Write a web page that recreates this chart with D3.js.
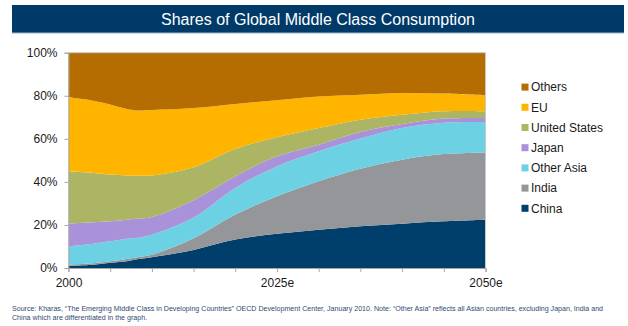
<!DOCTYPE html>
<html>
<head>
<meta charset="utf-8">
<script src="https://cdn.jsdelivr.net/npm/d3@7"></script>
<style>
  body { margin: 0; background: #fff; }
  text { font-family: "Liberation Sans", Arial, sans-serif; }
</style>
</head>
<body>
<div id="chart"></div>
<script>
// shares of global middle class consumption, % by region
const years     = [2000, 2003, 2005, 2007, 2008, 2010, 2015, 2020, 2025, 2030, 2035, 2040, 2045, 2050];
const china     = [1.0, 1.5, 2.4, 3.1, 3.9, 5.0, 8.4, 13.2, 15.9, 17.8, 19.4, 20.6, 21.7, 22.4];
const india     = [0.6, 0.7, 0.7, 1.1, 1.0, 1.2, 5.4, 11.6, 17.4, 22.5, 26.7, 29.7, 31.2, 31.3];
const otherAsia = [8.5, 9.1, 9.3, 9.4, 9.0, 9.3, 9.6, 12.4, 13.9, 13.9, 14.0, 14.7, 14.6, 14.1];
const japan     = [10.5, 9.9, 9.3, 8.8, 9.0, 8.2, 8.1, 5.4, 4.7, 3.1, 3.1, 1.9, 1.9, 1.9];
const us        = [24.3, 22.9, 21.7, 20.6, 20.0, 19.3, 15.3, 12.7, 8.8, 7.7, 5.7, 4.3, 3.4, 3.1];
const eu        = [34.4, 33.6, 32.5, 30.8, 30.3, 30.4, 27.5, 20.9, 17.2, 14.7, 11.6, 10.1, 8.2, 7.4];
const others    = [20.7, 22.3, 24.1, 26.2, 26.8, 26.6, 25.7, 23.8, 22.1, 20.3, 19.5, 18.7, 19.0, 19.8];

const seriesKeys   = ["China", "India", "Other Asia", "Japan", "United States", "EU", "Others"];
const seriesValues = [china, india, otherAsia, japan, us, eu, others];
const seriesColors = ["#003e6b", "#949699", "#6dd1e4", "#aa92db", "#acb564", "#ffb400", "#b56c00"];

const yTicks = [0, 20, 40, 60, 80, 100];
const xTicks = [2000, 2005, 2010, 2015, 2020, 2025, 2030, 2035, 2040, 2045, 2050];
const xLabels = {2000: "2000", 2025: "2025e", 2050: "2050e"};

const titleText = "Shares of Global Middle Class Consumption";
const noteLines = [
  "Source: Kharas, \u201CThe Emerging Middle Class in Developing Countries\u201D OECD Development Center, January 2010. Note: \u201COther Asia\u201D reflects all Asian countries, excluding Japan, India and",
  "China which are differentiated in the graph."
];

const width = 628, height = 326;
const plot = {left: 68.5, right: 485.5, top: 52.7, bottom: 268};

const svg = d3.select("#chart").append("svg")
  .attr("width", width)
  .attr("height", height);

// title bar
svg.append("rect")
  .attr("x", 12).attr("y", 5)
  .attr("width", 612).attr("height", 28)
  .attr("fill", "#003a69");
svg.append("line")
  .attr("x1", 12).attr("x2", 624)
  .attr("y1", 33).attr("y2", 33)
  .attr("stroke", "#9db6cc").attr("stroke-width", 1);
svg.append("text")
  .attr("x", 318).attr("y", 25)
  .attr("text-anchor", "middle")
  .attr("fill", "#fff")
  .attr("font-size", 16)
  .text(titleText);

const table = years.map((yr, i) => {
  const row = {year: yr};
  seriesKeys.forEach((k, j) => { row[k] = seriesValues[j][i]; });
  return row;
});

const x = d3.scaleLinear().domain([2000, 2050]).range([plot.left, plot.right]);
const y = d3.scaleLinear().domain([0, 100]).range([plot.bottom, plot.top]);

const stacked = d3.stack().keys(seriesKeys)(table);

const area = d3.area()
  .x(d => x(d.data.year))
  .y0(d => y(d[0]))
  .y1(d => y(d[1]))
  .curve(d3.curveCatmullRom.alpha(0.5));

svg.append("g")
  .selectAll("path")
  .data(stacked)
  .enter()
  .append("path")
  .attr("d", area)
  .attr("fill", (d, i) => seriesColors[i]);

// plot frame, top and right
svg.append("path")
  .attr("d", `M${plot.left},${plot.top}H${plot.right}V${plot.bottom}`)
  .attr("fill", "none")
  .attr("stroke", "#c9c9c9");

const yAxis = svg.append("g")
  .attr("transform", `translate(${plot.left},0)`)
  .call(d3.axisLeft(y).tickValues(yTicks).tickFormat(d => d + "%").tickSize(4).tickPadding(7));

const xAxis = svg.append("g")
  .attr("transform", `translate(0,${plot.bottom})`)
  .call(d3.axisBottom(x).tickValues(xTicks).tickFormat(d => xLabels[d] || "").tickSize(4).tickPadding(6));

[yAxis, xAxis].forEach(ax => {
  ax.select(".domain").attr("stroke", "#a6a6a6");
  ax.selectAll(".tick line").attr("stroke", "#a6a6a6");
  ax.selectAll(".tick text")
    .attr("fill", "#1a1a1a")
    .attr("font-size", 12)
    .attr("font-family", "Liberation Sans, Arial, sans-serif");
});

// legend, top entry first
const legend = svg.append("g");
const legendKeys = seriesKeys.slice().reverse();
const legendColors = seriesColors.slice().reverse();
legendKeys.forEach((k, i) => {
  const cy = 87.1 + i * 20.2;
  legend.append("rect")
    .attr("x", 521.5).attr("y", cy - 3.5)
    .attr("width", 7).attr("height", 7)
    .attr("fill", legendColors[i]);
  legend.append("text")
    .attr("x", 531).attr("y", cy)
    .attr("dy", "0.35em")
    .attr("fill", "#1a1a1a")
    .attr("font-size", 12)
    .text(k);
});

// source note
noteLines.forEach((t, i) => {
  svg.append("text")
    .attr("x", 12).attr("y", 311 + i * 9)
    .attr("fill", "#2f4a70")
    .attr("font-size", 7.1)
    .text(t);
});
</script>
</body>
</html>
